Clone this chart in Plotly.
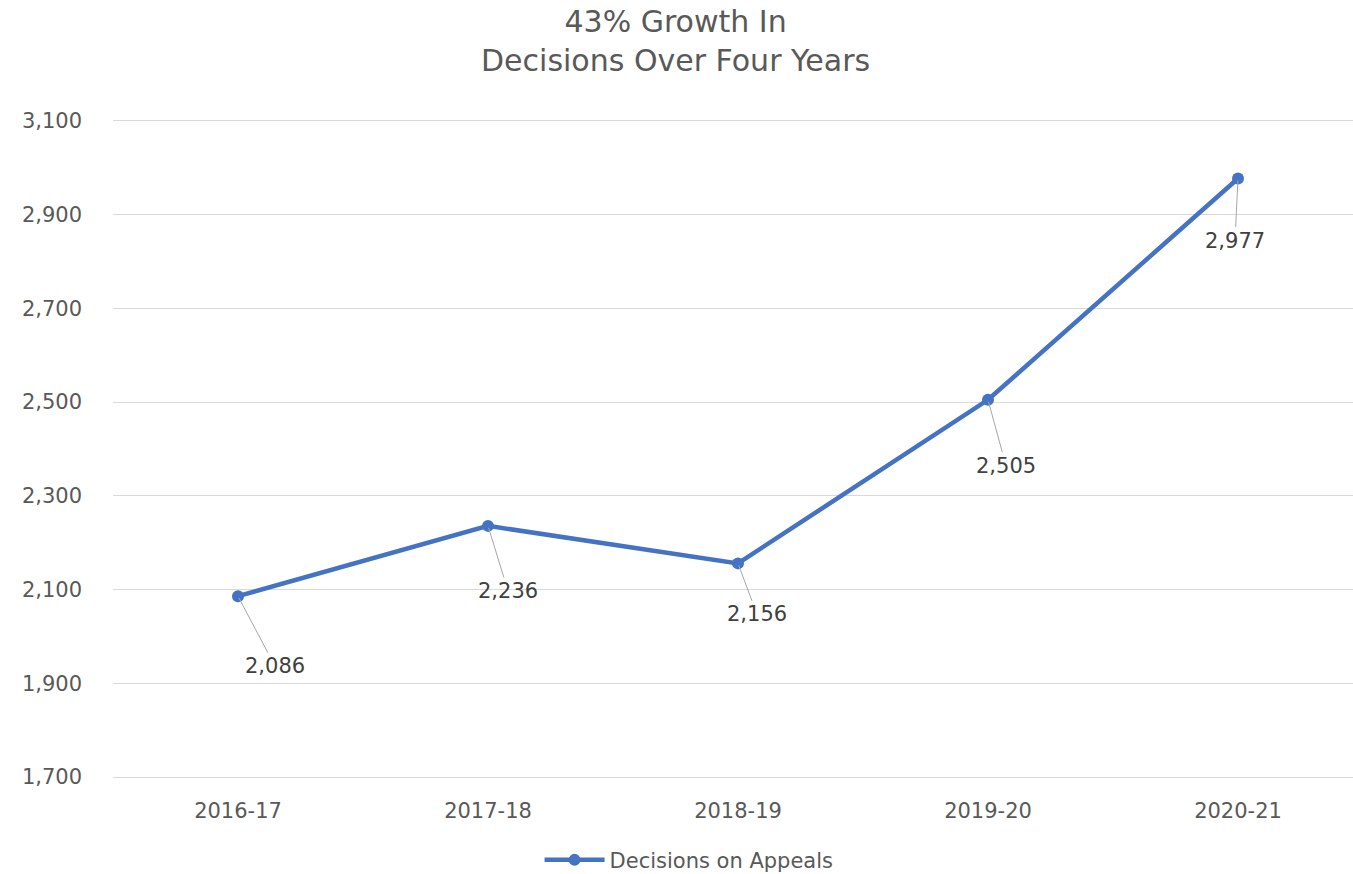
import plotly.graph_objects as go

years = ["2016-17", "2017-18", "2018-19", "2019-20", "2020-21"]
decisions = [2086, 2236, 2156, 2505, 2977]
label_offsets = [(37, 70), (20, 65), (19, 51), (18, 66), (-3, 62)]

line_color = "#4472C4"
text_gray = "#595959"
font_family = "DejaVu Sans"

fig = go.Figure()
fig.add_trace(go.Scatter(
    x=years, y=decisions, mode="lines+markers",
    name="Decisions on Appeals",
    line=dict(color=line_color, width=4.5),
    marker=dict(color=line_color, size=12),
))

for yr, val, (dx, dy) in zip(years, decisions, label_offsets):
    fig.add_annotation(
        x=yr, y=val, text=f"{val:,}",
        showarrow=True, arrowhead=0, arrowwidth=1, arrowcolor="#a6a6a6",
        ax=dx, ay=dy, standoff=2,
        font=dict(family=font_family, size=21, color="#404040"),
    )

# chart title, drawn as a paper annotation so both lines sit inside the top margin
fig.add_annotation(
    text="43% Growth In<br>Decisions Over Four Years",
    xref="paper", yref="paper", x=0.454, y=1.178,
    xanchor="center", yanchor="top", showarrow=False,
    font=dict(family=font_family, size=30, color=text_gray),
)

fig.update_layout(
    width=1353, height=874,
    margin=dict(l=113, r=0, t=119, b=95, autoexpand=False),
    paper_bgcolor="white", plot_bgcolor="white",
    font=dict(family=font_family, color=text_gray),
    xaxis=dict(
        type="category", range=[-0.5, 4.46],
        showgrid=False, showline=False, zeroline=False,
        tickfont=dict(size=21, color=text_gray),
        ticks="", ticklabelstandoff=17,
    ),
    yaxis=dict(
        # a little headroom so the 1,700 and 3,100 gridlines are kept
        range=[1696, 3104], tick0=1700, dtick=200, tickformat=",",
        showgrid=True, gridcolor="#d9d9d9", gridwidth=1,
        zeroline=False, showline=False,
        tickfont=dict(size=21, color=text_gray),
        ticks="", ticklabelstandoff=30,
    ),
    showlegend=True,
    legend=dict(
        orientation="h", x=0.344, xanchor="left", y=-0.092, yanchor="top",
        font=dict(size=21, color=text_gray), itemwidth=60,
    ),
)

fig.write_html("out.html")
